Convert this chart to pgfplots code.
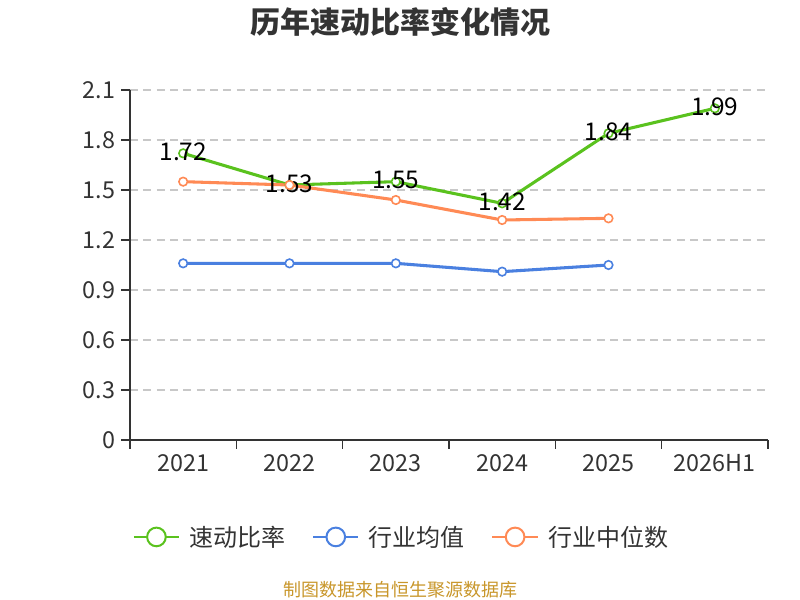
\documentclass[border=0pt]{standalone}
\usepackage{pgfplots}
\pgfplotsset{compat=1.18}
\usepackage{fontspec}
\setmainfont{Noto Sans CJK SC}
\definecolor{cgreen}{HTML}{5AC21E}
\definecolor{cblue}{HTML}{4A80E0}
\definecolor{corange}{HTML}{FF8A55}
\definecolor{ctext}{HTML}{333333}
\definecolor{cgrid}{HTML}{C8C8C8}
\definecolor{csrc}{HTML}{C8962A}
\begin{document}
\begin{tikzpicture}
\path[use as bounding box] (0,0) rectangle (600pt,450pt);
\begin{axis}[
  at={(97.5pt,120pt)}, anchor=south west,
  scale only axis, width=478.5pt, height=262.5pt,
  xmin=-0.5, xmax=5.5, ymin=0, ymax=2.1,
  axis x line*=bottom, axis y line*=left,
  axis line style={ctext, line width=1pt, -},
  xtick={-0.5,0.5,1.5,2.5,3.5,4.5,5.5},
  xticklabels={2021,2022,2023,2024,2025,2026H1},
  x tick label as interval,
  ytick={0,0.3,0.6,0.9,1.2,1.5,1.8,2.1},
  yticklabels={0,0.3,0.6,0.9,1.2,1.5,1.8,2.1},
  tick style={ctext, line width=1pt},
  major tick length=6.5pt,
  tick align=outside,
  ymajorgrids, grid style={cgrid, dashed, line width=0.9pt, dash pattern=on 6pt off 4pt},
  ticklabel style={font=\fontsize{17.5}{20}\selectfont, text=ctext},
  xticklabel style={yshift=-1pt},
  yticklabel style={xshift=-1pt},
  legend columns=3,
  legend style={at={(0.426,-0.277)}, anchor=center, draw=none, fill=none,
    font=\fontsize{18}{21}\selectfont, text=ctext,
    /tikz/every odd column/.append style={column sep=5pt},
    /tikz/every even column/.append style={column sep=18pt}},
  legend image code/.code={\draw[#1,mark=none,line width=1.5pt] (0pt,0pt) -- (34pt,0pt);
    \draw[#1,mark=none,line width=1.5pt,fill=white] (17pt,0pt) circle (7pt);},
  every axis plot/.append style={line width=2.3pt, mark=*, mark size=3.2pt,
    mark options={fill=white, line width=1.2pt}},
  clip=false,
]
\addplot[color=cgreen, nodes near coords, point meta=explicit symbolic,
  every node near coord/.style={anchor=center, yshift=1pt, text=black, font=\fontsize{18.3}{21}\selectfont}]
  coordinates {(0,1.72)[1.72] (1,1.53)[1.53] (2,1.55)[1.55] (3,1.42)[1.42] (4,1.84)[1.84] (5,1.99)[1.99]};
\addlegendentry{速动比率}
\addplot[color=cblue] coordinates {(0,1.06) (1,1.06) (2,1.06) (3,1.01) (4,1.05)};
\addlegendentry{行业均值}
\addplot[color=corange] coordinates {(0,1.55) (1,1.53) (2,1.44) (3,1.32) (4,1.33)};
\addlegendentry{行业中位数}
\end{axis}
\node[font=\bfseries\fontsize{22.5}{26}\selectfont, text=ctext] at (300pt,433.5pt) {历年速动比率变化情况};
\node[font=\fontsize{13.5}{16}\selectfont, text=csrc] at (300pt,7.5pt) {制图数据来自恒生聚源数据库};
\end{tikzpicture}
\end{document}
